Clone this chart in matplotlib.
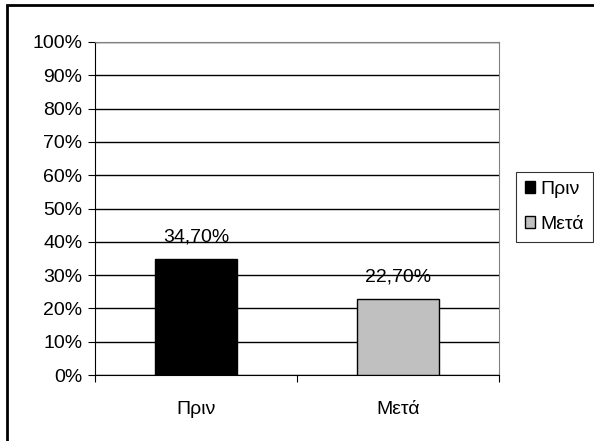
import matplotlib.pyplot as plt
from matplotlib.patches import Rectangle, Patch
from matplotlib.ticker import MultipleLocator, FuncFormatter

# δεδομένα
categories = ['Πριν', 'Μετά']
values = [34.7, 22.7]
value_labels = ['34,70%', '22,70%']
bar_colors = ['#000000', '#C0C0C0']

plt.rcParams['font.family'] = ['Liberation Sans', 'DejaVu Sans']
plt.rcParams['font.size'] = 14

fig = plt.figure(figsize=(5.94, 4.41), dpi=100)
# πλαίσιο γύρω από το γράφημα
fig.patches.append(Rectangle((7 / 594, -0.1), 1.2, 1.1 - 5 / 441, transform=fig.transFigure,
                             fill=False, edgecolor='black', linewidth=2))

ax = fig.add_axes([95 / 594, 1 - 375 / 441, 404 / 594, 333 / 441])
x = range(len(categories))
ax.bar(x, values, width=0.41, color=bar_colors, edgecolor='black', linewidth=1, zorder=3)

for xi, v, lbl in zip(x, values, value_labels):
    ax.text(xi, v + 5.3, lbl, ha='center', va='baseline', zorder=4)

ax.set_xlim(-0.5, 1.5)
ax.set_ylim(0, 100)
ax.yaxis.set_major_locator(MultipleLocator(10))
ax.yaxis.set_major_formatter(FuncFormatter(lambda v, p: f'{v:.0f}%'))
ax.grid(axis='y', color='black', linewidth=1, zorder=0)

ax.set_xticks([-0.5, 0.5, 1.5])
ax.set_xticklabels([])
ax.set_xticks(list(x), minor=True)
ax.set_xticklabels(categories, minor=True)
ax.tick_params(axis='x', which='major', direction='out', length=5, color='black')
ax.tick_params(axis='x', which='minor', length=0, pad=19)
ax.tick_params(axis='y', direction='out', length=5, pad=4)

for side in ['top', 'right']:
    ax.spines[side].set_color('#808080')
ax.spines['left'].set_color('black')
ax.spines['bottom'].set_color('black')

handles = [Patch(facecolor=c, edgecolor='black', label=l) for c, l in zip(bar_colors, categories)]
leg = fig.legend(handles=handles, loc='upper left', bbox_to_anchor=(516 / 594, 1 - 172 / 441),
                 frameon=True, fancybox=False, edgecolor='black', handlelength=0.55,
                 handleheight=0.55, handletextpad=0.25, borderpad=0.45, labelspacing=0.95,
                 borderaxespad=0)
leg.get_frame().set_linewidth(0.8)

fig.savefig('out.png', dpi=100)
